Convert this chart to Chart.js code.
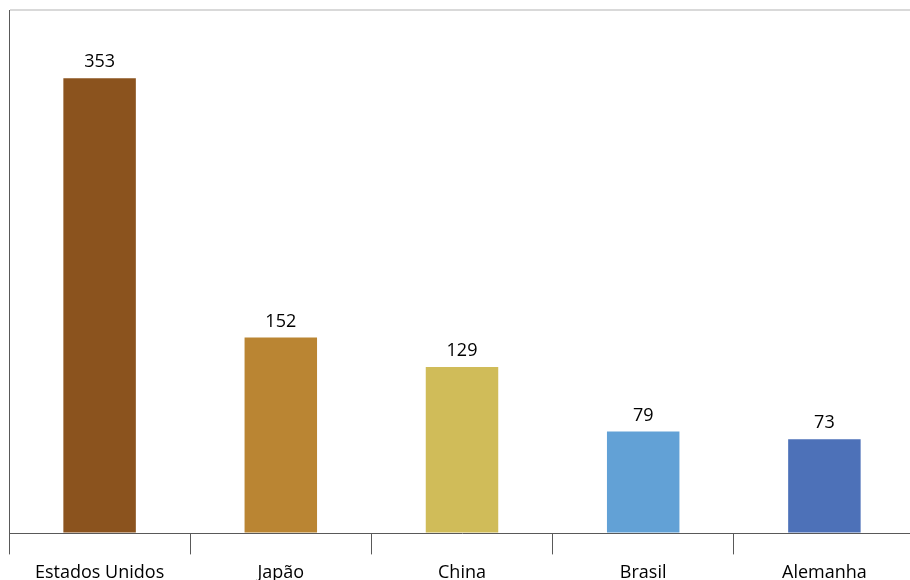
<!DOCTYPE html>
<html>
<head>
<meta charset="utf-8">
<script src="https://cdn.jsdelivr.net/npm/chart.js@4"></script>
<style>
  html, body { margin: 0; padding: 0; background: #fff; overflow: hidden; }
  #wrap { width: 910px; height: 580px; overflow: hidden; }
</style>
</head>
<body>
<div id="wrap"><canvas id="myChart" width="930" height="612"></canvas></div>
<script>
const paises = ["Estados Unidos", "Japão", "China", "Brasil", "Alemanha"];
const valores = [353, 152, 129, 79, 73];
const cores = ["#8B531E", "#BA8533", "#D0BC59", "#62A1D6", "#4D71B8"];
const yMax = 406;

// escreve o valor em cima de cada barra
const rotulos = {
  id: "rotulos",
  afterDatasetsDraw(chart) {
    const ctx = chart.ctx;
    const meta = chart.getDatasetMeta(0);
    ctx.save();
    ctx.font = "18px 'Open Sans'";
    ctx.fillStyle = "#000";
    ctx.textAlign = "center";
    ctx.textBaseline = "bottom";
    meta.data.forEach((bar, i) => {
      ctx.fillText(valores[i], bar.x, bar.y - 7);
    });
    ctx.restore();
  },
};

const ctx = document.getElementById("myChart");
new Chart(ctx, {
  type: "bar",
  data: {
    labels: paises,
    datasets: [
      {
        data: valores,
        backgroundColor: cores,
        borderWidth: 0,
        categoryPercentage: 1,
        barPercentage: 0.4,
      },
    ],
  },
  options: {
    responsive: false,
    animation: false,
    layout: { padding: { left: 9, right: 15, top: 10, bottom: 20 } },
    plugins: { legend: { display: false }, tooltip: { enabled: false } },
    scales: {
      x: {
        grid: {
          drawOnChartArea: false,
          color: "#595959",
          tickLength: 21,
        },
        border: { color: "#595959", width: 1 },
        ticks: {
          padding: 8,
          color: "#000",
          font: { family: "Open Sans", size: 18 },
        },
      },
      y: {
        min: 0,
        max: yMax,
        ticks: { display: false, stepSize: 100 },
        grid: {
          drawTicks: false,
          lineWidth: 2,
          color: (c) => (c.tick && c.tick.value === yMax ? "#d9d9d9" : "transparent"),
        },
        border: { color: "#595959", width: 1 },
      },
    },
  },
  plugins: [rotulos],
});
</script>
</body>
</html>
